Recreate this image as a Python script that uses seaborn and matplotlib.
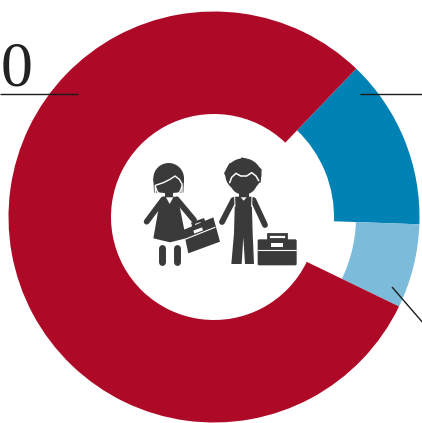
import seaborn as sns
import matplotlib
matplotlib.use("Agg")
import matplotlib.pyplot as plt
from matplotlib.patches import Ellipse, Polygon, FancyBboxPatch, Rectangle

# shares of the ring, clockwise from the blue slice
labels = ["blue", "light blue", "red"]
values = [13.4, 6.6, 80.0]
colors = ["#0082B5", "#7CBBD9", "#AE0A28"]
inner_radii = [120, 142, 103]

sns.set_theme(style="white")
W, H = 422, 423
fig = plt.figure(figsize=(W / 100, H / 100), dpi=100)
ax = fig.add_axes([0, 0, 1, 1])

cx, cy = 214, H - 217
outer = 205.5
# one pie per slice because each slice has its own hole
for i, name in enumerate(labels):
    cols = [c if j == i else "none" for j, c in enumerate(colors)]
    ax.pie(values, colors=cols, startangle=46.2, counterclock=False, radius=outer,
           center=(cx, cy), wedgeprops=dict(width=outer - inner_radii[i], linewidth=0))

ax.set_xlim(0, W)
ax.set_ylim(0, H)
ax.set_aspect("equal")
ax.axis("off")


# leader lines and the number
def line(x0, y0, x1, y1, lw=1.0, c="#1c1c1c"):
    ax.plot([x0, x1], [H - y0, H - y1], color=c, lw=lw, solid_capstyle="butt", zorder=5)


line(0, 93.5, 78, 93.5)
line(359.5, 93.5, 422, 93.5)
line(392, 287, 424, 324)
ax.text(32.2, H - 85.5, "0", family="Liberation Serif", fontsize=46, color="#222222",
        ha="right", va="baseline")

# icon, coordinates taken from the 3x crop of the centre
DARK = "#3A3A3A"


def z(px, py):
    return (130 + px / 3, H - (140 + py / 3))


def poly(pts, c=DARK, zo=6):
    ax.add_patch(Polygon([z(*p) for p in pts], closed=True, fc=c, ec="none", zorder=zo))


def stroke(pts, lw, c=DARK, zo=6):
    xy = [z(*p) for p in pts]
    ax.plot([p[0] for p in xy], [p[1] for p in xy], color=c, lw=lw, solid_capstyle="round",
            solid_joinstyle="round", zorder=zo)


def ell(px, py, w, h, c=DARK, zo=6):
    ax.add_patch(Ellipse(z(px, py), w / 3, h / 3, fc=c, ec="none", zorder=zo))


# girl
ell(116, 115, 92, 92)
poly([(70, 115), (162, 115), (160, 158), (72, 158)])
stroke([(76, 158), (76, 136), (100, 128), (120, 118), (135, 108), (148, 118), (156, 132), (156, 158)], 1.0, "white", 7)
stroke([(76, 140), (82, 155), (97, 168)], 1.0, "white", 7)
stroke([(156, 140), (150, 155), (135, 168)], 1.0, "white", 7)
poly([(106, 160), (128, 160), (128, 176), (106, 176)])
poly([(97, 170), (140, 170), (150, 205), (168, 295), (120, 307), (70, 295), (85, 210)])
poly([(108, 172), (130, 172), (119, 192)], "white", 7)
stroke([(100, 178), (50, 245)], 4.2)
stroke([(140, 178), (192, 240)], 4.2)
stroke([(97, 325), (97, 367)], 5.0)
stroke([(142, 325), (142, 367)], 5.0)

# her briefcase
poly([(160, 270), (250, 232), (270, 305), (175, 340)])
poly([(183, 248), (222, 234), (228, 250), (213, 252), (212, 246), (195, 252), (196, 258), (187, 261)])
poly([(190, 272), (216, 262), (219, 271), (193, 281)], "white", 7)
stroke([(165, 298), (255, 262)], 0.8, "white", 7)

# boy
ell(340, 105, 108, 100)
poly([(282, 100), (298, 70), (325, 68), (335, 52), (362, 60), (395, 88), (392, 128), (300, 132)])
stroke([(299, 128), (305, 112), (318, 100), (332, 108), (350, 108), (365, 98), (378, 108), (386, 122)], 1.1, "white", 7)
ell(341, 130, 78, 68, DARK, 6)
poly([(326, 155), (356, 155), (356, 178), (326, 178)])
poly([(315, 170), (365, 170), (368, 280), (372, 372), (345, 372), (340, 292), (335, 372), (304, 372), (312, 280)])
stroke([(310, 180), (276, 246)], 4.2)
stroke([(370, 180), (405, 255)], 4.2)
poly([(332, 172), (350, 172), (341, 182)], "white", 7)
stroke([(314, 170), (315, 200)], 0.7, "white", 7)
stroke([(366, 170), (365, 200)], 0.7, "white", 7)

# his briefcase
ax.add_patch(FancyBboxPatch(z(383, 376), 117 / 3, 78 / 3, boxstyle="round,pad=0,rounding_size=1.5",
                            fc=DARK, ec="none", zorder=6))
ax.add_patch(Rectangle(z(414, 298), 54 / 3, 15 / 3, fc="none", ec=DARK, lw=2.0, zorder=6))
ax.add_patch(Rectangle(z(424, 320), 34 / 3, 10 / 3, fc="white", ec="none", zorder=7))
stroke([(384, 330), (499, 330)], 0.8, "white", 7)

fig.savefig("out.png", dpi=100, facecolor="white")
